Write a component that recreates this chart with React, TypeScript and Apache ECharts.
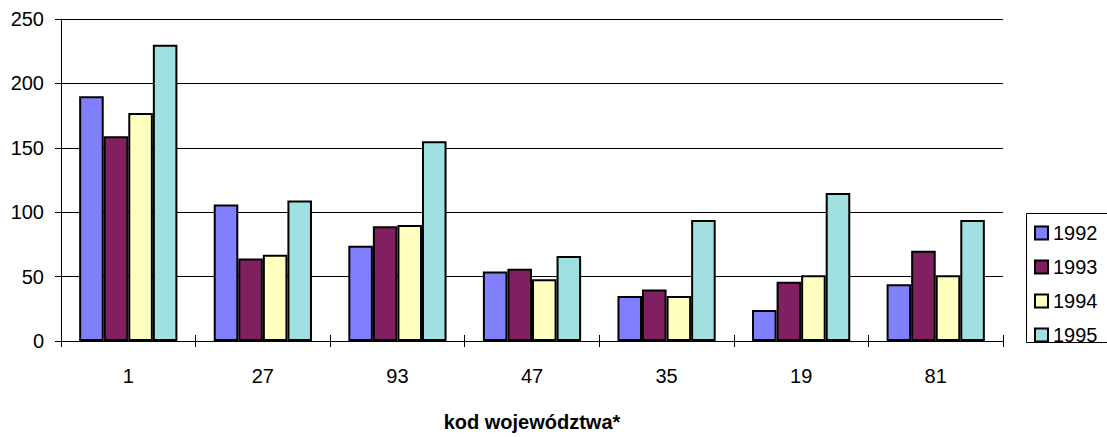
import React, { useEffect, useRef } from "react";
import * as echarts from "echarts";

const categories = ["1", "27", "93", "47", "35", "19", "81"];
const seriesNames = ["1992", "1993", "1994", "1995"];
const values1992 = [190, 106, 74, 54, 35, 24, 44];
const values1993 = [159, 64, 89, 56, 40, 46, 70];
const values1994 = [177, 67, 90, 48, 35, 51, 51];
const values1995 = [230, 109, 155, 66, 94, 115, 94];
const colors = ["#8080FF", "#802060", "#FFFFC0", "#A0E0E0"];
const yTicks = { min: 0, max: 250, interval: 50 };
const axisTitle = "kod województwa*";

const FONT = "'Liberation Sans', Arial, sans-serif";

export default function App() {
  const ref = useRef<HTMLDivElement>(null);
  useEffect(() => {
    if (!ref.current) return;
    const chart = echarts.init(ref.current, null, { renderer: "svg" });
    const allValues = [values1992, values1993, values1994, values1995];
    chart.setOption({
      animation: false,
      backgroundColor: "#fff",
      textStyle: { fontFamily: FONT, color: "#000" },
      grid: { left: 61, right: 104, top: 19, bottom: 91, containLabel: false },
      legend: {
        orient: "vertical",
        left: 1034,
        top: 223,
        itemWidth: 13,
        itemHeight: 13,
        itemGap: 14,
        icon: "rect",
        padding: 0,
        data: seriesNames,
        itemStyle: { borderColor: "#000", borderWidth: 2 },
        textStyle: { fontSize: 20, color: "#000", fontFamily: FONT, lineHeight: 20, padding: [0, 0, 0, 0] },
      },
      graphic: [
        {
          type: "rect",
          shape: { x: 1026.5, y: 213.5, width: 120, height: 129 },
          style: { fill: "none", stroke: "#000", lineWidth: 1 },
          z: 0,
        },
      ],
      xAxis: [
        {
          type: "category",
          data: categories,
          position: "bottom",
          axisLine: { show: true, lineStyle: { color: "#000", width: 1 } },
          axisTick: { show: true, length: 6, lineStyle: { color: "#000" } },
          axisLabel: { fontSize: 20, color: "#000", margin: 25, fontFamily: FONT },
          name: axisTitle,
          nameLocation: "middle",
          nameGap: 71,
          nameTextStyle: { fontSize: 20, fontWeight: "bold", color: "#000", fontFamily: FONT },
        },
        {
          type: "category",
          data: categories,
          position: "bottom",
          axisLine: { show: false },
          axisTick: { show: true, inside: true, length: 6, lineStyle: { color: "#000" } },
          axisLabel: { show: false },
        },
      ],
      yAxis: {
        type: "value",
        min: yTicks.min,
        max: yTicks.max,
        interval: yTicks.interval,
        axisLine: { show: true, lineStyle: { color: "#000", width: 1 } },
        axisTick: { show: true, length: 6, lineStyle: { color: "#000" } },
        axisLabel: { fontSize: 20, color: "#000", margin: 17, fontFamily: FONT },
        splitLine: { show: true, lineStyle: { color: "#000", width: 1 } },
      },
      series: seriesNames.map((name, i) => ({
        name,
        type: "bar",
        data: allValues[i],
        barGap: "0%",
        barCategoryGap: "27%",
        itemStyle: { color: colors[i], borderColor: "#000", borderWidth: 2 },
      })),
    });
    return () => chart.dispose();
  }, []);
  return (
    <div
      ref={ref}
      style={{ position: "absolute", left: 0, top: 0, width: 1107, height: 437 }}
    />
  );
}
